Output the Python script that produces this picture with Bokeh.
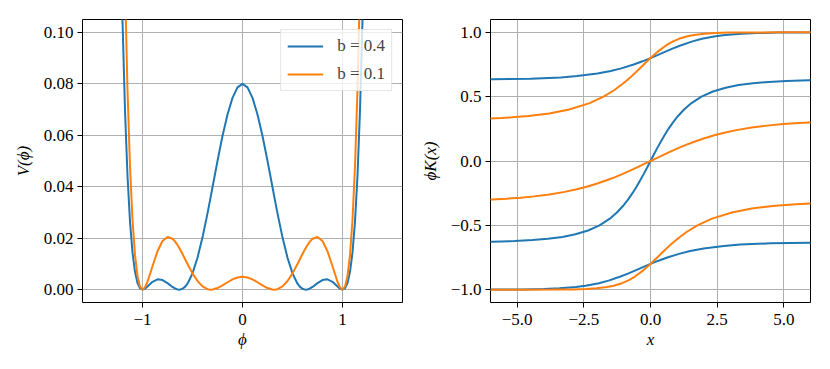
from bokeh.plotting import figure
from bokeh.layouts import row
from bokeh.models import FixedTicker, Legend, LegendItem, Range1d, CustomJSTickFormatter
from bokeh.embed import file_html
from bokeh.resources import INLINE

# ---------------- data: left panel, potential V(phi) ----------------
phi = [-1.25, -1.2, -1.175, -1.15, -1.125, -1.1, -1.075, -1.05, -1.025, -1.0,
       -0.975, -0.95, -0.9, -0.85, -0.8, -0.75, -0.7, -0.675, -0.65, -0.6325,
       -0.625, -0.6, -0.575, -0.55, -0.5, -0.45, -0.4, -0.35, -0.3162, -0.3,
       -0.25, -0.2, -0.15, -0.1, -0.05, 0.0,
       0.05, 0.1, 0.15, 0.2, 0.25, 0.3, 0.3162, 0.35, 0.4, 0.45,
       0.5, 0.55, 0.575, 0.6, 0.625, 0.6325, 0.65, 0.675, 0.7, 0.75,
       0.8, 0.85, 0.9, 0.95, 0.975, 1.0, 1.025, 1.05, 1.075, 1.1,
       1.125, 1.15, 1.175, 1.2, 1.25]

v_b04 = [0.2138, 0.10470, 0.06966, 0.04426, 0.02643, 0.01447, 0.00691, 0.00259, 0.00054, 0.0,
         0.00037, 0.00120, 0.00303, 0.00400, 0.00373, 0.00253, 0.00105, 0.00046, 0.00008, 0.0,
         0.00002, 0.00033, 0.00108, 0.00231, 0.00633, 0.01241, 0.02032, 0.02965, 0.03645, 0.03979,
         0.05006, 0.05972, 0.06808, 0.07454, 0.07861, 0.08,
         0.07861, 0.07454, 0.06808, 0.05972, 0.05006, 0.03979, 0.03645, 0.02965, 0.02032, 0.01241,
         0.00633, 0.00231, 0.00108, 0.00033, 0.00002, 0.0, 0.00008, 0.00046, 0.00105, 0.00253,
         0.00373, 0.00400, 0.00303, 0.00120, 0.00037, 0.0, 0.00054, 0.00259, 0.00691, 0.01447,
         0.02643, 0.04426, 0.06966, 0.10470, 0.2138]

v_b01 = [0.3384, 0.17381, 0.11880, 0.07772, 0.04793, 0.02717, 0.01349, 0.00528, 0.00116, 0.0,
         0.00088, 0.00306, 0.00910, 0.01492, 0.01890, 0.02047, 0.01978, 0.01874, 0.01734, 0.01620,
         0.01568, 0.01384, 0.01192, 0.00997, 0.00633, 0.00334, 0.00127, 0.00019, 0.0, 0.00004,
         0.00062, 0.00166, 0.00287, 0.00397, 0.00473, 0.005,
         0.00473, 0.00397, 0.00287, 0.00166, 0.00062, 0.00004, 0.0, 0.00019, 0.00127, 0.00334,
         0.00633, 0.00997, 0.01192, 0.01384, 0.01568, 0.01620, 0.01734, 0.01874, 0.01978, 0.02047,
         0.01890, 0.01492, 0.00910, 0.00306, 0.00088, 0.0, 0.00116, 0.00528, 0.01349, 0.02717,
         0.04793, 0.07772, 0.11880, 0.17381, 0.3384]

# ---------------- data: right panel, kink profiles ----------------
# b = 0.4
b04_top_x = [-6.22693, -5.93773, -4.49660, -3.36633, -2.75307, -1.99357, -1.48719, -1.09784,
             -0.62963, -0.29955, 0.0, 0.28322, 0.56145, 0.84586, 1.15046, 1.57521, 1.93316,
             2.43129, 2.80366, 3.41472, 4.00867, 4.78194, 5.94197, 6.12828]
b04_top_phi = [0.6345, 0.635, 0.64, 0.65, 0.66, 0.68, 0.70, 0.72, 0.75, 0.775, 0.8, 0.825,
               0.85, 0.875, 0.9, 0.93, 0.95, 0.97, 0.98, 0.99, 0.995, 0.998, 0.9995, 0.9996]

b04_mid_x = [-6.06848, -5.94262, -5.09399, -4.43024, -3.84942, -3.29800, -2.81791, -2.33999,
             -1.91196, -1.53815, -1.25848, -1.03339, -0.84302, -0.67595, -0.52503, -0.38524,
             -0.25295, -0.12537, 0.0, 0.12537, 0.25295, 0.38524, 0.52503, 0.67595, 0.84302,
             1.03339, 1.25848, 1.53815, 1.91196, 2.33999, 2.81791, 3.29800, 3.84942, 4.43024,
             5.09399, 5.94262, 6.06848]
b04_mid_phi = [-0.6275, -0.627, -0.622, -0.615, -0.605, -0.59, -0.57, -0.54, -0.5, -0.45, -0.4,
               -0.35, -0.3, -0.25, -0.2, -0.15, -0.1, -0.05, 0.0, 0.05, 0.1, 0.15, 0.2, 0.25,
               0.3, 0.35, 0.4, 0.45, 0.5, 0.54, 0.57, 0.59, 0.605, 0.615, 0.622, 0.627, 0.6275]

b04_bot_x = [-6.12828, -5.94197, -4.78194, -4.00867, -3.41472, -2.80366, -2.43129, -1.93316,
             -1.57521, -1.15046, -0.84586, -0.56145, -0.28322, 0.0, 0.29955, 0.62963, 1.09784,
             1.48719, 1.99357, 2.75307, 3.36633, 4.49660, 5.93773, 6.22693]
b04_bot_phi = [-0.9996, -0.9995, -0.998, -0.995, -0.99, -0.98, -0.97, -0.95, -0.93, -0.9,
               -0.875, -0.85, -0.825, -0.8, -0.775, -0.75, -0.72, -0.70, -0.68, -0.66, -0.65,
               -0.64, -0.635, -0.6345]

# b = 0.1
b01_top_x = [-6.13205, -5.59520, -5.18750, -4.58460, -3.79390, -3.05106, -2.27953, -1.76089,
             -1.36583, -1.04080, -0.75775, -0.49894, -0.25077, 0.0, 0.27086, 0.59447, 0.84658,
             1.06759, 1.38409, 1.62523, 2.02588, 2.41862, 2.93226, 3.70471, 4.98461, 6.26390]
b01_top_phi = [0.33, 0.335, 0.34, 0.35, 0.37, 0.4, 0.45, 0.5, 0.55, 0.6, 0.65, 0.7, 0.75, 0.8,
               0.85, 0.9, 0.93, 0.95, 0.97, 0.98, 0.99, 0.995, 0.998, 0.9995, 0.99995, 0.999995]

b01_mid_x = [-6.04545, -5.93877, -5.40388, -4.87040, -4.36494, -3.79262, -3.21963, -2.76943,
             -2.39417, -1.99348, -1.64391, -1.32922, -1.03906, -0.76603, -0.50465, -0.25058, 0.0,
             0.25058, 0.50465, 0.76603, 1.03906, 1.32922, 1.64391, 1.99348, 2.39417, 2.76943,
             3.21963, 3.79262, 4.36494, 4.87040, 5.40388, 5.93877, 6.04545]
b01_mid_phi = [-0.3, -0.299, -0.293, -0.285, -0.275, -0.26, -0.24, -0.22, -0.2, -0.175, -0.15,
               -0.125, -0.1, -0.075, -0.05, -0.025, 0.0, 0.025, 0.05, 0.075, 0.1, 0.125, 0.15,
               0.175, 0.2, 0.22, 0.24, 0.26, 0.275, 0.285, 0.293, 0.299, 0.3]

b01_bot_x = [-6.26390, -4.98461, -3.70471, -2.93226, -2.41862, -2.02588, -1.62523, -1.38409,
             -1.06759, -0.84658, -0.59447, -0.27086, 0.0, 0.25077, 0.49894, 0.75775, 1.04080,
             1.36583, 1.76089, 2.27953, 3.05106, 3.79390, 4.58460, 5.18750, 5.59520, 6.13205]
b01_bot_phi = [-0.999995, -0.99995, -0.9995, -0.998, -0.995, -0.99, -0.98, -0.97, -0.95, -0.93,
               -0.9, -0.85, -0.8, -0.75, -0.7, -0.65, -0.6, -0.55, -0.5, -0.45, -0.4, -0.37,
               -0.35, -0.34, -0.335, -0.33]

# ---------------- ticks ----------------
left_xticks = [-1, 0, 1]
left_xlabels = ["\u22121", "0", "1"]
left_yticks = [0.0, 0.02, 0.04, 0.06, 0.08, 0.10]
left_ylabels = ["0.00", "0.02", "0.04", "0.06", "0.08", "0.10"]
right_xticks = [-5.0, -2.5, 0.0, 2.5, 5.0]
right_xlabels = ["\u22125.0", "\u22122.5", "0.0", "2.5", "5.0"]
right_yticks = [-1.0, -0.5, 0.0, 0.5, 1.0]
right_ylabels = ["\u22121.0", "\u22120.5", "0.0", "0.5", "1.0"]
legend_labels = ["b = 0.4", "b = 0.1"]

BLUE = "#1f77b4"
ORANGE = "#ff7f0e"
FONT = "Liberation Serif"
FS = "17px"


def fmt(tv, tl):
    return CustomJSTickFormatter(
        args=dict(tv=tv, tl=tl),
        code="const i = tv.findIndex(t => Math.abs(t - tick) < 1e-9); return i >= 0 ? tl[i] : '';")


def style(p, xt, xl, yt, yl, xlab, ylab, ystand):
    p.xaxis.ticker = FixedTicker(ticks=xt)
    p.xgrid.ticker = FixedTicker(ticks=xt)
    p.yaxis.ticker = FixedTicker(ticks=yt)
    p.ygrid.ticker = FixedTicker(ticks=yt)
    p.xaxis.formatter = fmt(xt, xl)
    p.yaxis.formatter = fmt(yt, yl)
    p.xaxis.axis_label = xlab
    p.yaxis.axis_label = ylab
    for ax in (p.xaxis, p.yaxis):
        ax.axis_line_color = None
        ax.major_tick_in = 0
        ax.major_tick_out = 5
        ax.major_tick_line_color = "black"
        ax.major_tick_line_width = 1
        ax.minor_tick_line_color = None
        ax.major_label_text_font = FONT
        ax.major_label_text_font_size = FS
        ax.major_label_text_color = "black"
        ax.axis_label_text_font = FONT
        ax.axis_label_text_font_size = FS
        ax.axis_label_text_font_style = "italic"
        ax.axis_label_text_color = "black"
    p.xaxis.major_label_standoff = 6
    p.xaxis.axis_label_standoff = 2
    p.yaxis.major_label_standoff = 4
    p.yaxis.axis_label_standoff = ystand
    for g in (p.xgrid, p.ygrid):
        g.grid_line_color = "#b0b0b0"
        g.grid_line_width = 1
    p.outline_line_color = "black"
    p.outline_line_width = 1
    p.background_fill_color = "white"
    p.border_fill_color = "white"


p1 = figure(width=415, height=361, output_backend="svg", toolbar_location=None,
            x_range=Range1d(-1.6, 1.6), y_range=Range1d(-0.005, 0.105),
            min_border_left=82, min_border_right=13, min_border_top=19, min_border_bottom=59)
style(p1, left_xticks, left_xlabels, left_yticks, left_ylabels, "\u03d5", "V(\u03d5)", 8)
r1 = p1.line(phi, v_b04, line_color=BLUE, line_width=2)
r2 = p1.line(phi, v_b01, line_color=ORANGE, line_width=2)
legend = Legend(items=[LegendItem(label=legend_labels[0], renderers=[r1]),
                       LegendItem(label=legend_labels[1], renderers=[r2])],
                location="top_right")
legend.label_text_font = FONT
legend.label_text_font_size = FS
legend.glyph_width = 36
legend.glyph_height = 18
legend.label_height = 18
legend.spacing = 8
legend.padding = 6
legend.label_standoff = 14
legend.margin = 10
legend.border_line_color = "#cccccc"
legend.border_line_width = 1
legend.background_fill_alpha = 0.8
p1.add_layout(legend)

p2 = figure(width=407, height=361, output_backend="svg", toolbar_location=None,
            x_range=Range1d(-6, 6), y_range=Range1d(-1.1, 1.1),
            min_border_left=75, min_border_right=12, min_border_top=19, min_border_bottom=59)
style(p2, right_xticks, right_xlabels, right_yticks, right_ylabels, "x", "\u03d5K(x)", 8)
p2.line(b04_top_x, b04_top_phi, line_color=BLUE, line_width=2)
p2.line(b04_mid_x, b04_mid_phi, line_color=BLUE, line_width=2)
p2.line(b04_bot_x, b04_bot_phi, line_color=BLUE, line_width=2)
p2.line(b01_top_x, b01_top_phi, line_color=ORANGE, line_width=2)
p2.line(b01_mid_x, b01_mid_phi, line_color=ORANGE, line_width=2)
p2.line(b01_bot_x, b01_bot_phi, line_color=ORANGE, line_width=2)

layout = row(p1, p2)
open("out.html", "w").write(file_html(layout, INLINE))
